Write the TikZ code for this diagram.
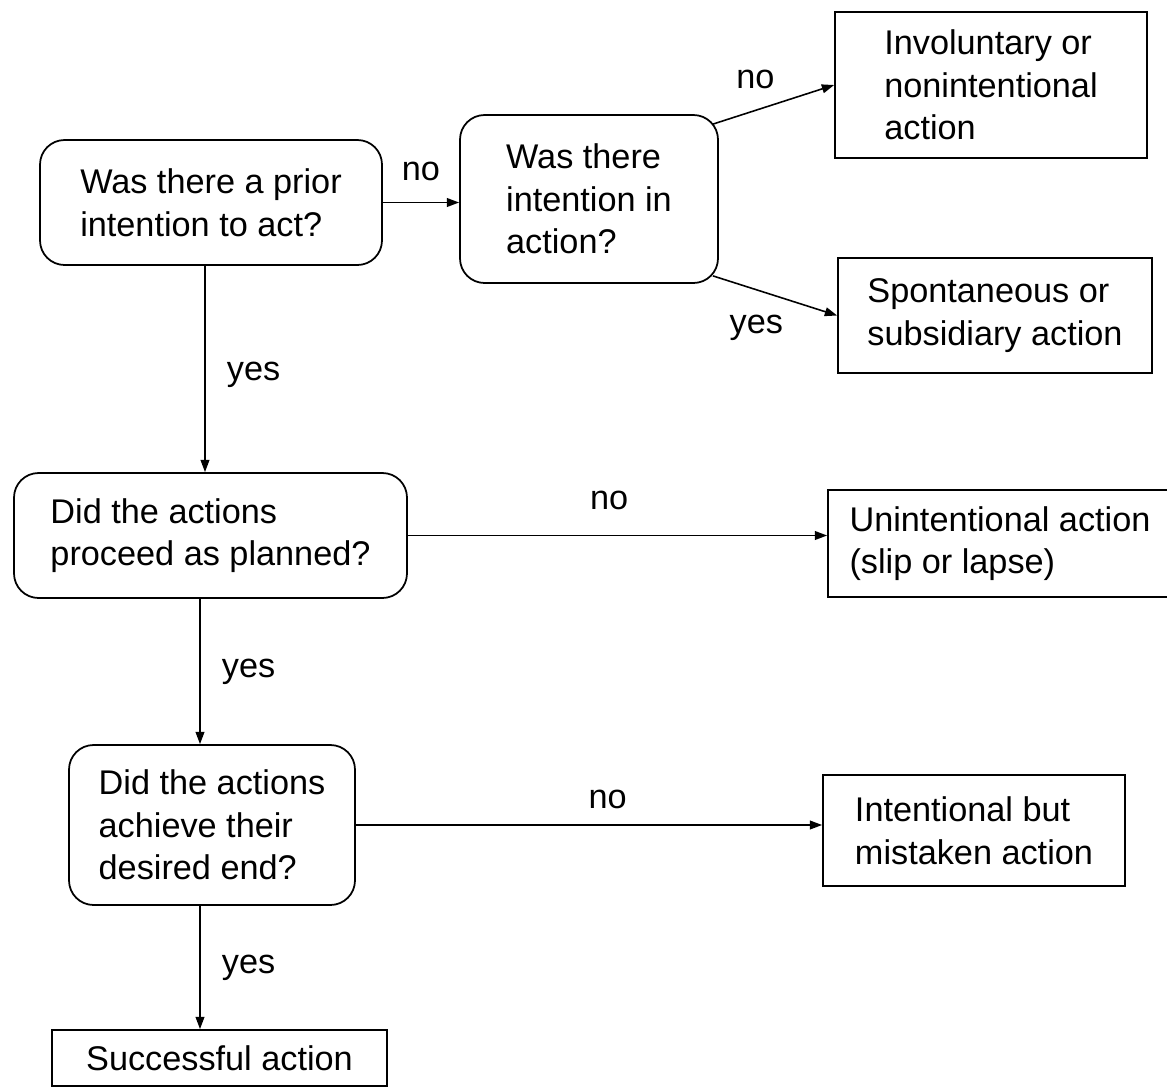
\documentclass[tikz,border=0pt]{standalone}
\usepackage{fontspec}
\setmainfont{Liberation Sans}
\usetikzlibrary{arrows.meta,calc}
\begin{document}
\begin{tikzpicture}[x=0.02cm,y=-0.02cm,
  every node/.style={font=\fontsize{19.5}{24.3}\selectfont},
  qbox/.style={draw,line width=1pt,rounded corners=14pt,align=left,inner sep=0pt},
  abox/.style={draw,line width=1pt,align=left,inner sep=0pt},
  arr/.style={line width=0.9pt,-{Triangle[length=7pt,width=5pt]}},
  lbl/.style={inner sep=2pt}]
\useasboundingbox (0,0) rectangle (1167,1089);
% question boxes
\node[qbox,minimum width=342*0.02cm,minimum height=125*0.02cm] (b1) at (211,202.5) {Was there a prior\\intention to act?};
\node[qbox,minimum width=258*0.02cm,minimum height=168*0.02cm] (b2) at (589,199) {Was there\\intention in\\action?};
\node[qbox,minimum width=393*0.02cm,minimum height=125*0.02cm] (b5) at (210.5,535.5) {Did the actions\\proceed as planned?};
\node[qbox,minimum width=286*0.02cm,minimum height=160*0.02cm] (b7) at (212,825) {Did the actions\\achieve their\\desired end?};
% outcome boxes
\node[abox,minimum width=312*0.02cm,minimum height=146*0.02cm] (b3) at (991,85) {Involuntary or\\nonintentional\\action};
\node[abox,minimum width=314*0.02cm,minimum height=115*0.02cm] (b4) at (995,315.5) {Spontaneous or\\subsidiary action};
\node[abox,minimum width=344*0.02cm,minimum height=107*0.02cm] (b6) at (1000,543.5) {Unintentional action\\(slip or lapse)};
\node[abox,minimum width=302*0.02cm,minimum height=111*0.02cm] (b8) at (974,830.5) {Intentional but\\mistaken action};
\node[abox,minimum width=335*0.02cm,minimum height=56*0.02cm] (b9) at (219.5,1058) {Successful action};
% connectors
\coordinate (c1) at (205,0);
\coordinate (c2) at (200,0);
\coordinate (d1) at ($(b2.north east)+(-6,10)$);
\coordinate (d2) at ($(b2.south east)+(-6,-8)$);
\draw[arr] (b1.east) -- node[lbl,above=10pt]{no} (b1.east -| b2.west);
\draw[arr] (d1) -- node[lbl,pos=0.35,above=10pt]{no} (b3.west);
\draw[arr] (d2) -- node[lbl,pos=0.35,below=12pt]{yes} (b4.west);
\draw[arr] (c1 |- b1.south) -- node[lbl,pos=0.53,right=10pt]{yes} (c1 |- b5.north);
\draw[arr] (b5.east) -- node[lbl,pos=0.48,above=12pt]{no} (b5.east -| b6.west);
\draw[arr] (c2 |- b5.south) -- node[lbl,right=10pt]{yes} (c2 |- b7.north);
\draw[arr] (b7.east) -- node[lbl,pos=0.54,above=7pt]{no} (b7.east -| b8.west);
\draw[arr] (c2 |- b7.south) -- node[lbl,right=10pt]{yes} (c2 |- b9.north);
\end{tikzpicture}
\end{document}
